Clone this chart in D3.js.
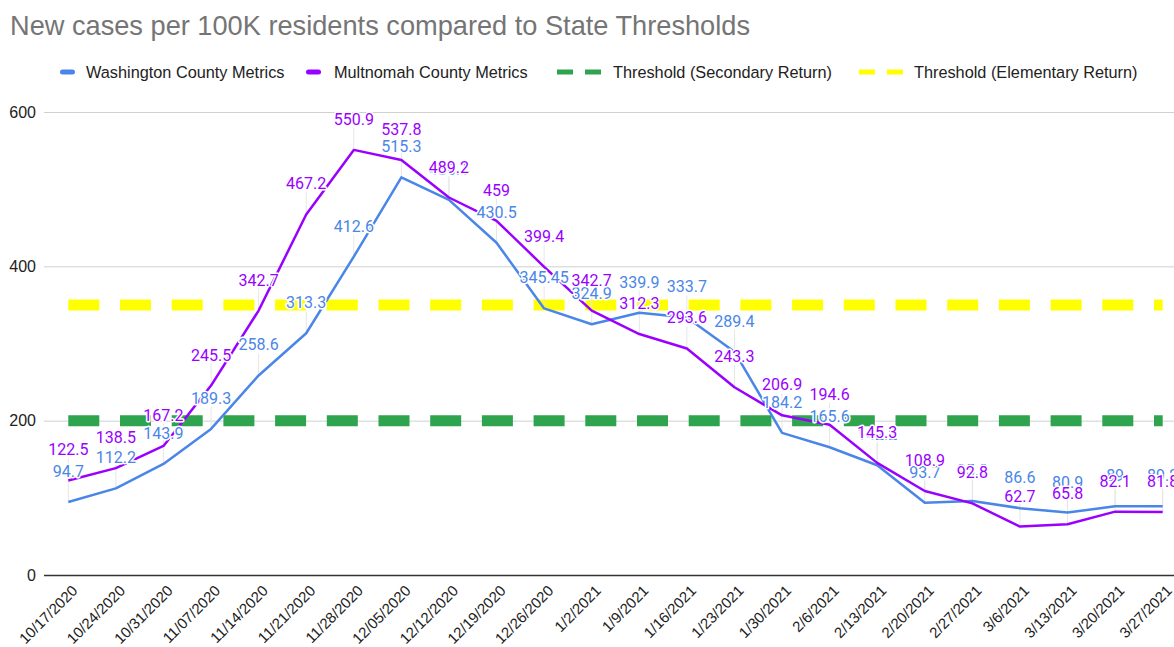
<!DOCTYPE html>
<html>
<head>
<meta charset="utf-8">
<script src="https://cdn.jsdelivr.net/npm/d3@7"></script>
<style>
  html, body { margin: 0; padding: 0; background: #fff; }
  svg { display: block; }
</style>
</head>
<body>
<svg id="chart" width="1174" height="647"></svg>
<script>
const dates = ["10/17/2020","10/24/2020","10/31/2020","11/07/2020","11/14/2020","11/21/2020","11/28/2020","12/05/2020","12/12/2020","12/19/2020","12/26/2020","1/2/2021","1/9/2021","1/16/2021","1/23/2021","1/30/2021","2/6/2021","2/13/2021","2/20/2021","2/27/2021","3/6/2021","3/13/2021","3/20/2021","3/27/2021"];
const washington = [94.7,112.2,143.9,189.3,258.6,313.3,412.6,515.3,486.1,430.5,345.45,324.9,339.9,333.7,289.4,184.2,165.6,142.2,93.7,95.8,86.6,80.9,89.0,89.2];
const multnomah = [122.5,138.5,167.2,245.5,342.7,467.2,550.9,537.8,489.2,459,399.4,342.7,312.3,293.6,243.3,206.9,194.6,145.3,108.9,92.8,62.7,65.8,82.1,81.8];
const secondaryThreshold = 200;
const elementaryThreshold = 350;
const yTicks = [0, 200, 400, 600];
const seriesNames = ["Washington County Metrics","Multnomah County Metrics","Threshold (Secondary Return)","Threshold (Elementary Return)"];
const colors = { wash: "#4a86e8", mult: "#9900ff", green: "#2ea44f", yellow: "#ffff00" };

const svg = d3.select("#chart");
const x = d3.scalePoint().domain(dates).range([68.3, 1162.7]);
const y = d3.scaleLinear().domain([0, 600]).range([575, 112]);

// title
svg.append("text").attr("x", 10).attr("y", 35)
  .attr("font-family", "Liberation Sans, Arial, sans-serif").attr("font-size", 27.2)
  .attr("fill", "#757575").text("New cases per 100K residents compared to State Thresholds");

// legend
const legendItems = [
  {name: seriesNames[0], color: colors.wash, dashed: false, sx: 60, tx: 86},
  {name: seriesNames[1], color: colors.mult, dashed: false, sx: 306, tx: 334},
  {name: seriesNames[2], color: colors.green, dashed: true, sx: 557, tx: 613},
  {name: seriesNames[3], color: colors.yellow, dashed: true, sx: 859, tx: 914}
];
const lg = svg.append("g");
legendItems.forEach(d => {
  if (d.dashed) {
    lg.append("rect").attr("x", d.sx).attr("y", 69.5).attr("width", 16).attr("height", 5).attr("fill", d.color);
    lg.append("rect").attr("x", d.sx + 28).attr("y", 69.5).attr("width", 16).attr("height", 5).attr("fill", d.color);
  } else {
    lg.append("rect").attr("x", d.sx).attr("y", 69.5).attr("width", 15).attr("height", 5).attr("rx", 2.5).attr("fill", d.color);
  }
  lg.append("text").attr("x", d.tx).attr("y", 78)
    .attr("font-family", "Liberation Sans, Arial, sans-serif").attr("font-size", 16.3)
    .attr("fill", "#222").text(d.name);
});

// y axis grid
const yAxis = d3.axisLeft(y).tickValues(yTicks).tickSize(-(1174 - 44)).tickPadding(8).tickFormat(d3.format("d"));
const ga = svg.append("g").attr("transform", "translate(44,0)").call(yAxis);
ga.select(".domain").remove();
ga.selectAll(".tick line").attr("stroke", "#d0d0d0").attr("stroke-width", 1)
  .filter(d => d === 0).attr("stroke", "#333").attr("stroke-width", 1.5);
ga.selectAll(".tick text").attr("font-family", "Liberation Sans, Arial, sans-serif")
  .attr("font-size", 16).attr("fill", "#222").attr("x", -8);

// x axis labels
const xAxis = d3.axisBottom(x).tickSize(0).tickPadding(0);
const gx = svg.append("g").attr("transform", "translate(0,575)").call(xAxis);
gx.select(".domain").remove();
gx.selectAll(".tick text")
  .attr("font-family", "Liberation Sans, Arial, sans-serif").attr("font-size", 15)
  .attr("fill", "#222").attr("text-anchor", "end")
  .attr("transform", "translate(6,13) rotate(-45)").attr("dy", "0.35em").attr("y", 0);

// thresholds
const thr = [{v: secondaryThreshold, c: colors.green}, {v: elementaryThreshold, c: colors.yellow}];
thr.forEach(t => {
  svg.append("line").attr("x1", x(dates[0])).attr("x2", x(dates[dates.length - 1]))
    .attr("y1", y(t.v)).attr("y2", y(t.v)).attr("stroke", t.c).attr("stroke-width", 11)
    .attr("stroke-dasharray", "31,20.7");
});

// leader lines
const series = [{vals: washington, c: colors.wash}, {vals: multnomah, c: colors.mult}];
series.forEach(s => {
  svg.append("g").selectAll("line").data(s.vals).join("line")
    .attr("x1", (d, i) => x(dates[i])).attr("x2", (d, i) => x(dates[i]))
    .attr("y1", d => y(d)).attr("y2", d => y(d) - 22)
    .attr("stroke", "#e6e6e6").attr("stroke-width", 1);
});

// lines
const line = d3.line().x((d, i) => x(dates[i])).y(d => y(d));
series.forEach(s => {
  svg.append("path").datum(s.vals).attr("d", line).attr("fill", "none")
    .attr("stroke", s.c).attr("stroke-width", 2.5).attr("stroke-linejoin", "round");
});

// labels
series.forEach(s => {
  svg.append("g").selectAll("text").data(s.vals).join("text")
    .attr("x", (d, i) => x(dates[i])).attr("y", d => y(d) - 25)
    .attr("text-anchor", "middle")
    .attr("font-family", "Roboto, sans-serif").attr("font-size", 16)
    .attr("fill", s.c).attr("stroke", "#fff").attr("stroke-width", 3)
    .attr("paint-order", "stroke").attr("stroke-linejoin", "round")
    .text(d => String(d));
});
</script>
</body>
</html>
